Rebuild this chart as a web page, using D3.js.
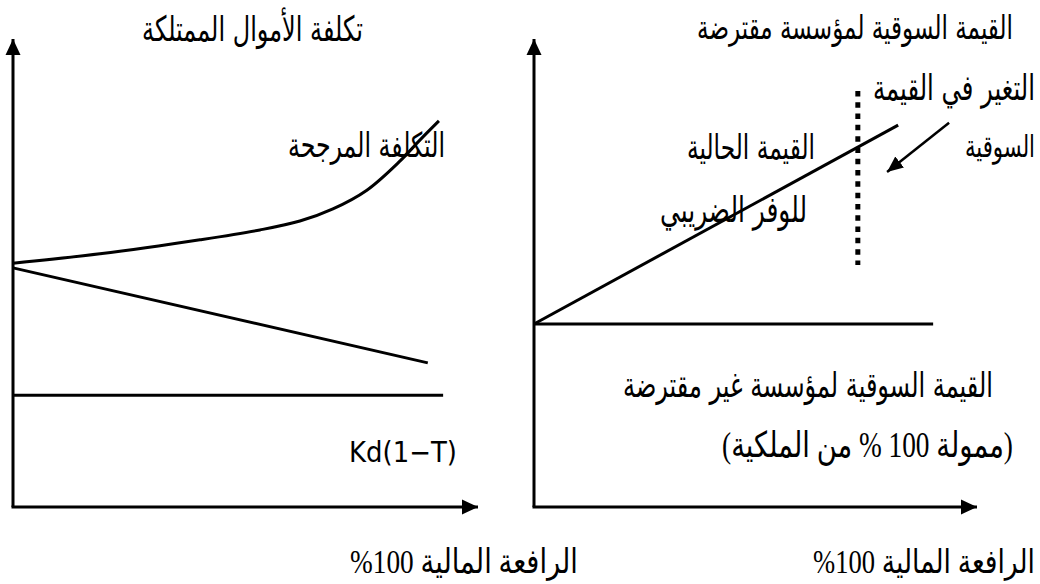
<!DOCTYPE html>
<html><head><meta charset="utf-8">
<script src="https://cdn.jsdelivr.net/npm/d3@7"></script>
<style>html,body{margin:0;padding:0;background:#fff;}svg{display:block;}</style>
</head><body>
<svg id="chart" width="1040" height="584"></svg>
<script>
// ---- data (x = financial leverage %, y = arbitrary units 0..100) ----
const wccLev   = [0, 18.7, 40.2, 53.1, 61.7, 68.8, 76.1, 83.2, 87.5, 91.6];
const wccCost  = [52.1, 54.1, 57.1, 59.2, 61.1, 63.7, 67.7, 73.9, 78.4, 82.5];
const equityLev  = [0, 89.2];
const equityCost = [51.1, 30.8];
const kdLev  = [0, 92.5];
const kdCost = [23.9, 23.9];

const unlevLev   = [0, 90.1];
const unlevValue = [39.1, 39.1];
const levLev     = [0, 82.2];
const levValue   = [39.1, 81.6];
const changeLev   = [73.1, 73.1];
const changeValue = [88.9, 51.7];
const arrowLev   = [93.7, 79.7];
const arrowValue = [82.1, 71.6];

const leftTitle  = "تكلفة الأموال الممتلكة";
const rightTitle = "القيمة السوقية لمؤسسة مقترضة";
const xLabelNum  = "\u0025\u0031\u0030\u0030";
const xLabelText = "الرافعة المالية";
const wccLabel   = "التكلفة المرجحة";
const kdLabel    = "Kd(1−T)";
const changeLabel1 = "التغير في القيمة";
const changeLabel2 = "السوقية";
const pvLabel1 = "القيمة الحالية";
const pvLabel2 = "للوفر الضريبي";
const unlevLabel1 = "القيمة السوقية لمؤسسة غير مقترضة";
const unlevLabel2 = "(ممولة 100 % من الملكية)";

// ---- drawing ----
const svg = d3.select("#chart");
svg.append("rect").attr("width",1040).attr("height",584).attr("fill","#fff");

const defs = svg.append("defs");
defs.append("marker").attr("id","axisArrow")
  .attr("markerUnits","userSpaceOnUse").attr("viewBox","0 -8 16 16")
  .attr("markerWidth",16).attr("markerHeight",16)
  .attr("refX",16).attr("refY",0).attr("orient","auto")
  .append("path").attr("d","M0,-7.5L16,0L0,7.5Z").attr("fill","#000");
defs.append("marker").attr("id","smallArrow")
  .attr("markerUnits","userSpaceOnUse").attr("viewBox","0 -8 16 16")
  .attr("markerWidth",16).attr("markerHeight",16)
  .attr("refX",16).attr("refY",0).attr("orient","auto")
  .append("path").attr("d","M0,-7L16,0L0,7Z").attr("fill","#000");

const y = d3.scaleLinear().domain([0,100]).range([507,39]);
const xL = d3.scaleLinear().domain([0,100]).range([13,478]);
const xR = d3.scaleLinear().domain([0,100]).range([534,977]);

function zip(a,b){ return a.map((v,i)=>[v,b[i]]); }

function axes(x){
  const g = svg.append("g");
  g.append("line").attr("x1",x(0)).attr("y1",y(0)).attr("x2",x(0)).attr("y2",y(100))
    .attr("stroke","#000").attr("stroke-width",3).attr("marker-end","url(#axisArrow)");
  g.append("line").attr("x1",x(0)-1.5).attr("y1",y(0)).attr("x2",x(100)).attr("y2",y(0))
    .attr("stroke","#000").attr("stroke-width",3).attr("marker-end","url(#axisArrow)");
}
axes(xL); axes(xR);

function drawLine(x, xs, ys, curve, extra){
  const gen = d3.line().x(d=>x(d[0])).y(d=>y(d[1])).curve(curve || d3.curveLinear);
  const p = svg.append("path").attr("d", gen(zip(xs,ys)))
    .attr("fill","none").attr("stroke","#000").attr("stroke-width",3);
  if (extra) extra(p);
  return p;
}

// left panel
drawLine(xL, wccLev, wccCost, d3.curveCatmullRom.alpha(0.5));
drawLine(xL, equityLev, equityCost);
drawLine(xL, kdLev, kdCost);

// right panel
drawLine(xR, unlevLev, unlevValue);
drawLine(xR, levLev, levValue);
drawLine(xR, changeLev, changeValue, null, p => p.attr("stroke-width",5).attr("stroke-dasharray","5.5,5.8"));
drawLine(xR, arrowLev, arrowValue, null, p => p.attr("stroke-width",2.5).attr("marker-end","url(#smallArrow)"));

// labels: fit to width (with a condensing factor k), center by bbox
function label(text, cx, cy, w, family, opts){
  opts = opts || {};
  const k = opts.k || 1;
  const g = svg.append("g");
  const t = g.append("text").text(text)
    .attr("font-family", family).attr("font-size", 24).attr("fill","#000")
    .attr("text-anchor","middle").attr("x", 0).attr("y", 0);
  if (opts.dir) t.attr("direction", opts.dir).style("unicode-bidi","embed");
  let bb = t.node().getBBox();
  const fs = 24 * w / bb.width * k;
  t.attr("font-size", fs);
  bb = t.node().getBBox();
  t.attr("x", -(bb.x + bb.width/2));
  t.attr("y", -(bb.y + bb.height/2) + (opts.dy || 0));
  g.attr("transform", `translate(${cx},${cy}) scale(${1/k},1)`);
  return t;
}
const AR = "'DejaVu Sans', sans-serif";
const SER = "'Liberation Serif', 'DejaVu Sans', serif";
const K = 1.45;

label(leftTitle, 252.5, 28, 221, AR, {dir:"rtl", k:K});
label(wccLabel, 366.5, 145, 157, AR, {dir:"rtl", k:K});
label(kdLabel, 403, 452, 108, "'DejaVu Sans', sans-serif", {k:1.08});
label(xLabelNum + " " + xLabelText, 464, 562, 228, SER, {dir:"ltr", k:1.25});

label(rightTitle, 855, 27, 316, AR, {dir:"rtl", k:K});
label(changeLabel1, 954, 88, 162, AR, {dir:"rtl", k:K});
label(changeLabel2, 1000, 147, 70, AR, {dir:"rtl", k:K});
label(pvLabel1, 751, 147, 128, AR, {dir:"rtl", k:K});
label(pvLabel2, 733.5, 210, 147, AR, {dir:"rtl", k:K});
label(unlevLabel1, 808, 385, 370, AR, {dir:"rtl", k:K});
label(unlevLabel2, 867.5, 445, 291, SER, {dir:"rtl", k:1.3});
label(xLabelNum + " " + xLabelText, 924, 562, 222, SER, {dir:"ltr", k:1.25});
</script>
</body></html>
